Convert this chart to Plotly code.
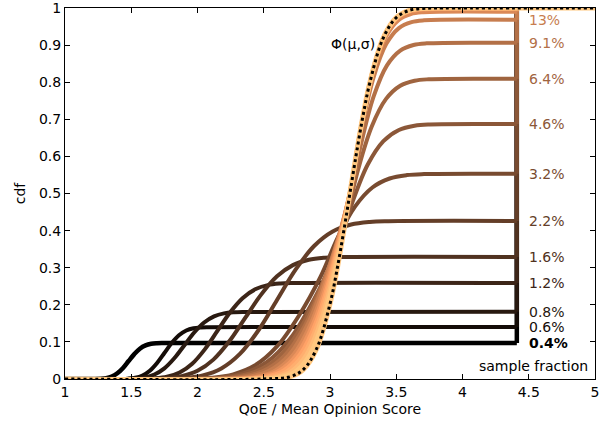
import plotly.graph_objects as go

# ---- data ----
fractions = ["0.4%", "0.6%", "0.8%", "1.2%", "1.6%", "2.2%", "3.2%", "4.6%", "6.4%",
             "9.1%", "13%", "18%", "26%", "36%", "51%", "72%", "100%"]
labelled = 11  # first 11 curves carry a label

levels = [0.097, 0.140, 0.181, 0.259, 0.329, 0.426, 0.553, 0.687, 0.809,
          0.906, 0.968, 0.990, 0.997, 0.999, 1.0, 1.0, 1.0]

curve_x = [
    [1.225, 1.268, 1.31, 1.353, 1.395, 1.438, 1.48, 1.523, 1.565, 1.608, 1.65, 1.693, 1.735],
    [1.42, 1.475, 1.53, 1.585, 1.64, 1.695, 1.75, 1.805, 1.86, 1.915, 1.97, 2.025, 2.08],
    [1.45, 1.525, 1.6, 1.675, 1.75, 1.825, 1.9, 1.975, 2.05, 2.125, 2.2, 2.275, 2.35],
    [1.58, 1.675, 1.77, 1.865, 1.96, 2.055, 2.15, 2.245, 2.34, 2.435, 2.53, 2.625, 2.72],
    [1.64, 1.76, 1.88, 2.0, 2.12, 2.24, 2.36, 2.48, 2.60, 2.72, 2.84, 2.96, 3.08],
    [1.76, 1.90, 2.04, 2.18, 2.32, 2.46, 2.60, 2.74, 2.88, 3.02, 3.16, 3.30, 3.44],
    [1.94, 2.105, 2.27, 2.435, 2.60, 2.765, 2.93, 3.06, 3.19, 3.32, 3.45, 3.58, 3.71],
    [2.0, 2.175, 2.35, 2.525, 2.70, 2.875, 3.05, 3.168, 3.285, 3.403, 3.52, 3.638, 3.755],
    [2.092, 2.26, 2.428, 2.596, 2.764, 2.932, 3.10, 3.208, 3.315, 3.423, 3.53, 3.638, 3.745],
    [2.17, 2.33, 2.49, 2.65, 2.81, 2.97, 3.13, 3.23, 3.33, 3.43, 3.53, 3.63, 3.73],
    [2.24, 2.39, 2.54, 2.69, 2.84, 2.99, 3.14, 3.235, 3.33, 3.425, 3.52, 3.615, 3.71],
    [2.305, 2.445, 2.585, 2.725, 2.865, 3.005, 3.145, 3.238, 3.331, 3.424, 3.517, 3.61, 3.703],
    [2.353, 2.486, 2.618, 2.751, 2.883, 3.016, 3.148, 3.24, 3.331, 3.423, 3.514, 3.606, 3.697],
    [2.40, 2.525, 2.65, 2.775, 2.90, 3.025, 3.15, 3.241, 3.332, 3.423, 3.514, 3.605, 3.696],
    [2.448, 2.565, 2.682, 2.799, 2.916, 3.033, 3.15, 3.24, 3.33, 3.42, 3.51, 3.60, 3.69],
    [2.496, 2.605, 2.714, 2.823, 2.932, 3.041, 3.15, 3.24, 3.33, 3.42, 3.51, 3.60, 3.69],
    [2.544, 2.645, 2.746, 2.847, 2.948, 3.049, 3.15, 3.24, 3.33, 3.42, 3.51, 3.60, 3.69],
]
curve_y = [
    [0.0001, 0.0006, 0.0022, 0.0065, 0.0154, 0.0299, 0.0485, 0.0671, 0.0816, 0.0905, 0.0948, 0.0964, 0.0969],
    [0.0002, 0.0009, 0.0032, 0.0094, 0.0222, 0.0432, 0.070, 0.0968, 0.1178, 0.1306, 0.1368, 0.1391, 0.1398],
    [0.0002, 0.0011, 0.0041, 0.0121, 0.0287, 0.0558, 0.0905, 0.1252, 0.1523, 0.1689, 0.1769, 0.1799, 0.1808],
    [0.0003, 0.0016, 0.0059, 0.0173, 0.0411, 0.0799, 0.1295, 0.1791, 0.2179, 0.2417, 0.2531, 0.2574, 0.2587],
    [0.0004, 0.0020, 0.0075, 0.0220, 0.0522, 0.1015, 0.1645, 0.2275, 0.2768, 0.3070, 0.3215, 0.3270, 0.3286],
    [0.0006, 0.0026, 0.0097, 0.0285, 0.0676, 0.1314, 0.2130, 0.2946, 0.3584, 0.3975, 0.4163, 0.4234, 0.4254],
    [0.0007, 0.0034, 0.0126, 0.0369, 0.0878, 0.1706, 0.2765, 0.3824, 0.4652, 0.5161, 0.5404, 0.5496, 0.5523],
    [0.0009, 0.0043, 0.0157, 0.0459, 0.1090, 0.2119, 0.3435, 0.4751, 0.5780, 0.6411, 0.6713, 0.6827, 0.6861],
    [0.0011, 0.0050, 0.0184, 0.0540, 0.1284, 0.2496, 0.4045, 0.5594, 0.6806, 0.7550, 0.7905, 0.8040, 0.8079],
    [0.0012, 0.0056, 0.0207, 0.0605, 0.1438, 0.2795, 0.4530, 0.6265, 0.7622, 0.8455, 0.8854, 0.9004, 0.9048],
    [0.0013, 0.0060, 0.0221, 0.0647, 0.1536, 0.2986, 0.4840, 0.6694, 0.8144, 0.9033, 0.9459, 0.9620, 0.9667],
    [0.0013, 0.0061, 0.0226, 0.0661, 0.1571, 0.3054, 0.4950, 0.6846, 0.8329, 0.9239, 0.9674, 0.9839, 0.9887],
    [0.0013, 0.0062, 0.0227, 0.0666, 0.1582, 0.3076, 0.4985, 0.6894, 0.8388, 0.9304, 0.9743, 0.9908, 0.9957],
    [0.0013, 0.0062, 0.0228, 0.0667, 0.1585, 0.3082, 0.4995, 0.6908, 0.8405, 0.9323, 0.9762, 0.9928, 0.9977],
    [0.0013, 0.0062, 0.0228, 0.0668, 0.1587, 0.3085, 0.5000, 0.6915, 0.8413, 0.9332, 0.9772, 0.9938, 0.9987],
    [0.0013, 0.0062, 0.0228, 0.0668, 0.1587, 0.3085, 0.5000, 0.6915, 0.8413, 0.9332, 0.9772, 0.9938, 0.9987],
    [0.0013, 0.0062, 0.0228, 0.0668, 0.1587, 0.3085, 0.5000, 0.6915, 0.8413, 0.9332, 0.9772, 0.9938, 0.9987],
]
x_start = 1.0
x_jump = 4.41

phi_x = [1.0, 2.5, 2.7, 2.8, 2.9, 3.0, 3.05, 3.1, 3.15, 3.2, 3.25, 3.3, 3.4, 3.5, 3.6, 3.7, 3.8, 5.0]
phi_y = [0.0, 0.0002, 0.0062, 0.026, 0.0824, 0.2024, 0.289, 0.3906, 0.5, 0.6094, 0.711,
         0.7976, 0.9176, 0.974, 0.9938, 0.9989, 0.9998, 1.0]

x_ticks = [1, 1.5, 2, 2.5, 3, 3.5, 4, 4.5, 5]
y_ticks = [0, 0.1, 0.2, 0.3, 0.4, 0.5, 0.6, 0.7, 0.8, 0.9, 1]

# ---- styling ----
FONT = "DejaVu Sans"
n = len(fractions)


def copper(t):
    r = min(1.0, 1.25 * t)
    g = 0.7812 * t
    b = 0.4975 * t
    return f"rgb({round(r*255)},{round(g*255)},{round(b*255)})"


colors = [copper(i / (n - 1)) for i in range(n)]

fig = go.Figure()
for i in range(n):
    xs = [x_start] + curve_x[i] + [x_jump]
    ys = [0.0] + curve_y[i] + [levels[i]]
    w = 4.5 if i == 0 else 4
    fig.add_trace(go.Scatter(x=xs, y=ys, mode="lines",
                             line=dict(color=colors[i], width=w, shape="spline", smoothing=1),
                             hoverinfo="skip", showlegend=False))
    fig.add_trace(go.Scatter(x=[x_jump, x_jump], y=[levels[i], 1.0], mode="lines",
                             line=dict(color=colors[i], width=w),
                             hoverinfo="skip", showlegend=False))

# Phi(mu, sigma) reference
fig.add_trace(go.Scatter(x=phi_x, y=phi_y, mode="lines",
                         line=dict(color=copper(1.0), width=5, shape="spline"),
                         hoverinfo="skip", showlegend=False))
fig.add_trace(go.Scatter(x=phi_x, y=phi_y, mode="lines",
                         line=dict(color="black", width=3, dash="dot", shape="spline"),
                         hoverinfo="skip", showlegend=False))

annotations = []
for i in range(labelled):
    annotations.append(dict(x=4.485, y=levels[i], xref="x", yref="y", text=fractions[i],
                            showarrow=False, xanchor="left", yanchor="middle",
                            font=dict(family=FONT, size=14,
                                      color=colors[i] if i > 0 else "black",
                                      weight="bold" if i == 0 else "normal")))
annotations.append(dict(x=4.965, y=0.036, xref="x", yref="y", text="sample fraction",
                        showarrow=False, xanchor="right", yanchor="middle",
                        font=dict(family=FONT, size=14, color="black")))
annotations.append(dict(x=3.17, y=0.903, xref="x", yref="y", text="Φ(μ,σ)",
                        showarrow=False, xanchor="center", yanchor="middle",
                        font=dict(family=FONT, size=14, color="black")))

axis_common = dict(showline=True, linecolor="black", linewidth=1, mirror="allticks",
                   ticks="inside", ticklen=5, tickwidth=1, tickcolor="black",
                   showgrid=False, zeroline=False, ticklabeloverflow="allow",
                   automargin=False,
                   tickfont=dict(family=FONT, size=14, color="black"))

fig.update_layout(
    width=610, height=424,
    margin=dict(l=65, r=15, t=8, b=45),
    paper_bgcolor="white", plot_bgcolor="white",
    font=dict(family=FONT, size=14, color="black"),
    xaxis=dict(range=[1, 5], tickvals=x_ticks,
               title=dict(text="QoE / Mean Opinion Score", font=dict(family=FONT, size=14), standoff=5),
               **axis_common),
    yaxis=dict(range=[0, 1], tickvals=y_ticks,
               title=dict(text="cdf", font=dict(family=FONT, size=14), standoff=10),
               **axis_common),
    annotations=annotations,
)

fig.write_html("out.html")
